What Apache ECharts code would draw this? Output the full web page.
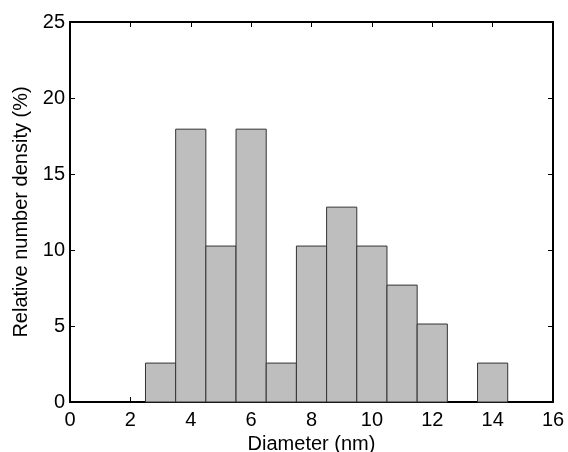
<!DOCTYPE html>
<html>
<head>
<meta charset="utf-8">
<script src="https://cdn.jsdelivr.net/npm/echarts@6/dist/echarts.min.js"></script>
<style>
  html, body { margin: 0; padding: 0; background: #fff; }
  #chart { width: 568px; height: 452px; }
</style>
</head>
<body>
<div id="chart"></div>
<script>
// bin centres (nm) and relative number density (%)
const binCenters = [3, 4, 5, 6, 7, 8, 9, 10, 11, 12, 13, 14]
const density = [2.56, 17.95, 10.26, 17.95, 2.56, 10.26, 12.82, 10.26, 7.69, 5.13, 0, 2.56]
const binWidth = 1

const xTicks = [0, 2, 4, 6, 8, 10, 12, 14, 16]
const yTicks = [0, 5, 10, 15, 20, 25]

const font = 'Liberation Sans'
const chart = echarts.init(document.getElementById('chart'))

const line = { show: true, onZero: false, lineStyle: { color: '#000', width: 2 } }
const tick = { show: true, inside: true, length: 5, lineStyle: { color: '#000', width: 1 } }
const label = { show: true, color: '#000', fontSize: 20, fontFamily: font }
const nameStyle = { color: '#000', fontSize: 20, fontFamily: font }

chart.setOption({
  animation: false,
  backgroundColor: '#fff',
  textStyle: { fontSize: 20, fontFamily: font, color: '#000' },
  grid: { left: 70, right: 15, top: 22, bottom: 50, containLabel: false, outerBoundsMode: 'none' },
  xAxis: [{
    type: 'value', position: 'bottom',
    min: xTicks[0], max: xTicks[xTicks.length - 1], interval: 2,
    axisLine: line, axisTick: tick, splitLine: { show: false },
    axisLabel: Object.assign({ margin: 8 }, label),
    name: 'Diameter (nm)', nameLocation: 'middle', nameGap: 28, nameTextStyle: nameStyle
  }, {
    type: 'value', position: 'top',
    min: xTicks[0], max: xTicks[xTicks.length - 1], interval: 2,
    axisLine: line, axisTick: tick, splitLine: { show: false }, axisLabel: { show: false }
  }],
  yAxis: [{
    type: 'value', position: 'left',
    min: yTicks[0], max: yTicks[yTicks.length - 1], interval: 5,
    axisLine: line, axisTick: tick, splitLine: { show: false },
    axisLabel: Object.assign({ margin: 5 }, label),
    name: 'Relative number density (%)', nameLocation: 'middle', nameGap: 38, nameTextStyle: nameStyle
  }, {
    type: 'value', position: 'right',
    min: yTicks[0], max: yTicks[yTicks.length - 1], interval: 5,
    axisLine: line, axisTick: tick, splitLine: { show: false }, axisLabel: { show: false }
  }],
  series: [{
    type: 'custom',
    xAxisIndex: 0, yAxisIndex: 0,
    data: binCenters.map((c, i) => [c, density[i]]),
    renderItem: (params, api) => {
      const c = api.value(0)
      const v = api.value(1)
      if (!v) return null
      const p0 = api.coord([c - binWidth / 2, v])
      const p1 = api.coord([c + binWidth / 2, 0])
      return {
        type: 'rect',
        shape: { x: p0[0], y: p0[1], width: p1[0] - p0[0], height: p1[1] - p0[1] },
        style: { fill: '#bebebe', stroke: '#333', lineWidth: 1 }
      }
    }
  }, {
    // empty series so the top/right frame axes get drawn
    type: 'custom', xAxisIndex: 1, yAxisIndex: 1, data: [],
    renderItem: () => null
  }]
})
</script>
</body>
</html>
